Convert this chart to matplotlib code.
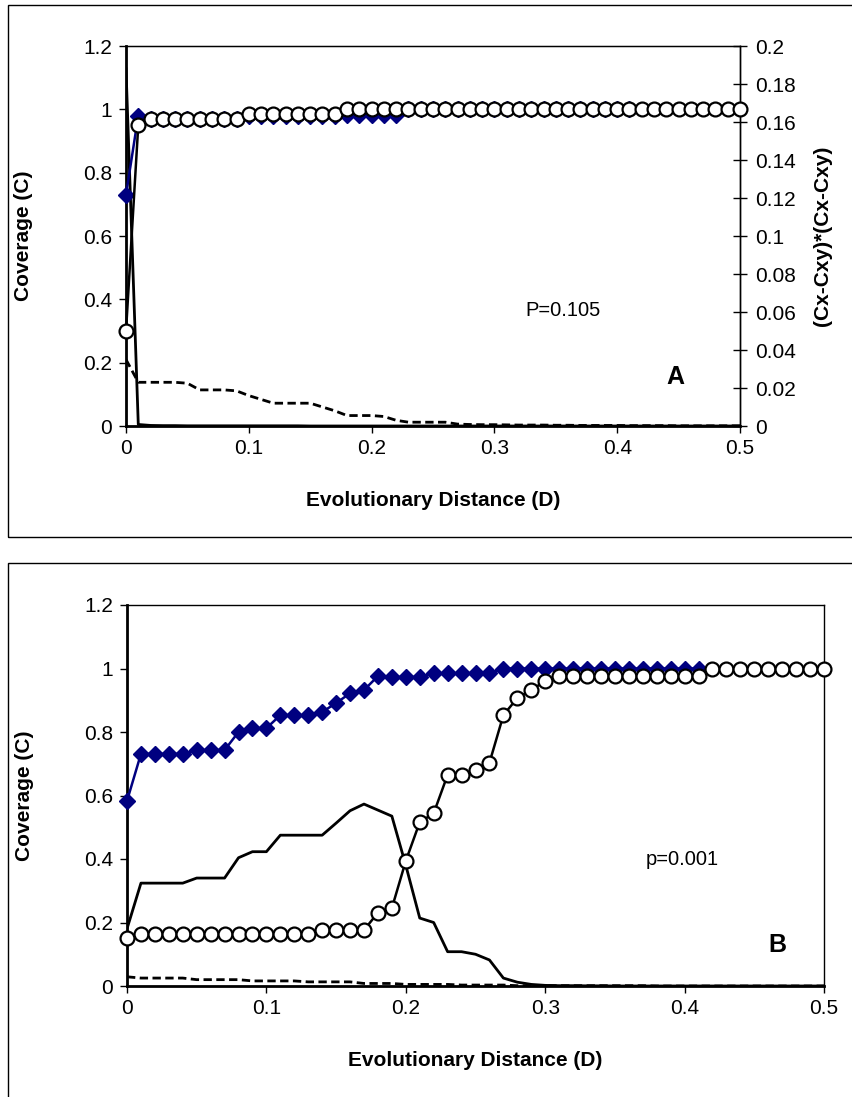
import numpy as np
import matplotlib
matplotlib.use("Agg")
import matplotlib.pyplot as plt
from matplotlib.patches import Rectangle
from matplotlib.ticker import FuncFormatter

plt.rcParams['font.family'] = ['Liberation Sans', 'DejaVu Sans']

# evolutionary distance grid (0 .. 0.5 by 0.01)
dist = np.round(np.arange(0, 0.505, 0.01), 2)
dist_diam = dist[:42]

# ---- panel A values ----
a_circles = [0.30, 0.95] + [0.97] * 8 + [0.985] * 8 + [1.0] * 33
a_diamonds = [0.73, 0.98] + [0.97] * 8 + [0.98] * 8 + [0.982] * 5 + [1.0] * 19
a_solid = [0.188, 0.0008, 0.0003, 0.0002, 0.0002] + [0.0001] * 10 + [0.0] * 36
a_dashed = [0.035, 0.023, 0.023, 0.023, 0.023, 0.0225, 0.019, 0.019, 0.019, 0.0185,
            0.016, 0.014, 0.012, 0.012, 0.012, 0.012, 0.010, 0.008, 0.0055, 0.0055,
            0.0055, 0.005, 0.003, 0.002, 0.002, 0.002, 0.002, 0.001, 0.0008, 0.0007,
            0.0007, 0.0006, 0.0005, 0.0005, 0.0005, 0.0004, 0.0004, 0.0003, 0.0003, 0.0003,
            0.0003, 0.0002, 0.0002, 0.0002, 0.0002, 0.0001, 0.0001, 0.0001, 0.0001, 0.0001, 0.0001]

# ---- panel B values ----
b_circles = ([0.151] + [0.164] * 13 + [0.176] * 4 + [0.231, 0.245, 0.394, 0.516, 0.544,
             0.665, 0.665, 0.68, 0.703, 0.853, 0.907, 0.932, 0.961] + [0.976] * 11 + [1.0] * 9)
b_diamonds = ([0.583] + [0.731] * 4 + [0.743] * 3 + [0.80, 0.812, 0.812, 0.853, 0.853, 0.853,
              0.863, 0.891, 0.922, 0.932, 0.976, 0.973, 0.973, 0.973] + [0.985] * 5 + [1.0] * 15)
b_solid = [0.18, 0.324, 0.324, 0.324, 0.324, 0.34, 0.34, 0.34, 0.404, 0.423,
           0.423, 0.475, 0.475, 0.475, 0.475, 0.513, 0.552, 0.573, 0.554, 0.535,
           0.38, 0.214, 0.2, 0.108, 0.108, 0.1, 0.082, 0.025, 0.012, 0.005,
           0.002, 0.001, 0.001, 0.0005, 0.0005] + [0.0] * 16
b_dashed = [0.029, 0.025, 0.025, 0.025, 0.025, 0.02, 0.02, 0.02, 0.02, 0.016,
            0.016, 0.016, 0.016, 0.013, 0.013, 0.013, 0.013, 0.008, 0.008, 0.008,
            0.005, 0.005, 0.005, 0.005, 0.003, 0.003, 0.003, 0.003] + [0.001] * 10 + [0.0] * 13

NAVY = '#000080'
FS = 15
DASH = (0, (3, 1.6))
fmt = FuncFormatter(lambda v, p: '%g' % round(v, 2))

fig = plt.figure(figsize=(8.52, 10.97), dpi=100)

# panel frames
W, H = 852, 1097
fig.patches.append(Rectangle((8 / W, 1 - 537 / H), 2, (537 - 5) / H, transform=fig.transFigure,
                             fill=False, edgecolor='black', lw=1.0))
fig.patches.append(Rectangle((8 / W, -0.1), 2, 0.1 + (1 - 563 / H), transform=fig.transFigure,
                             fill=False, edgecolor='black', lw=1.0))


def style_axes(ax):
    ax.set_xlim(0, 0.5)
    ax.set_ylim(0, 1.2)
    ax.set_xticks(np.arange(0, 0.51, 0.1))
    ax.set_yticks(np.arange(0, 1.21, 0.2))
    ax.xaxis.set_major_formatter(fmt)
    ax.yaxis.set_major_formatter(fmt)
    ax.tick_params(axis='both', labelsize=FS, direction='out', length=5, width=1)
    ax.tick_params(axis='x', pad=4)
    ax.tick_params(axis='y', pad=5)
    ax.tick_params(right=False, top=False)
    ax.spines['left'].set_linewidth(2)
    ax.spines['bottom'].set_linewidth(2)
    ax.spines['top'].set_linewidth(1)
    ax.spines['right'].set_linewidth(1)
    ax.set_xlabel('Evolutionary Distance (D)', fontsize=FS, fontweight='bold', labelpad=24)
    ax.set_ylabel('Coverage (C)', fontsize=FS, fontweight='bold', labelpad=36)


def plot_cov(ax, circles, diamonds):
    ax.plot(dist_diam, diamonds, color=NAVY, lw=1.8, marker='D', markersize=8.5,
            markerfacecolor=NAVY, markeredgecolor=NAVY, zorder=3, clip_on=False)
    ax.plot(dist, circles, color='black', lw=1.8, marker='o', markersize=10,
            markerfacecolor='white', markeredgecolor='black', markeredgewidth=1.6,
            zorder=4, clip_on=False)


# ---- panel A ----
axA = fig.add_axes([126 / W, 1 - 426 / H, (740 - 126) / W, (426 - 46) / H])
axA2 = axA.twinx()
axA2.set_ylim(0, 0.2)
axA2.set_yticks(np.arange(0, 0.201, 0.02))
axA2.yaxis.set_major_formatter(fmt)
axA2.tick_params(axis='y', labelsize=FS, direction='inout', length=10, width=1, pad=6)
axA2.spines['right'].set_linewidth(1)
axA2.plot(dist, a_solid, color='black', lw=2)
axA2.plot(dist, a_dashed, color='black', lw=2, linestyle=DASH)
axA2.set_ylabel('(Cx-Cxy)*(Cx-Cxy)', fontsize=FS, fontweight='bold', labelpad=12)
axA.set_zorder(axA2.get_zorder() + 1)
axA.patch.set_visible(False)
style_axes(axA)
plot_cov(axA, a_circles, a_diamonds)
axA.text(0.325, 0.366, 'P=0.105', fontsize=FS - 0.5, va='center')
axA.text(0.44, 0.155, 'A', fontsize=FS + 3, fontweight='bold', va='center')

# ---- panel B ----
axB = fig.add_axes([127 / W, 1 - 986 / H, (824 - 127) / W, (986 - 605) / H])
style_axes(axB)
axB.plot(dist, b_solid, color='black', lw=2, zorder=2)
axB.plot(dist, b_dashed, color='black', lw=2, linestyle=DASH, zorder=2)
plot_cov(axB, b_circles, b_diamonds)
axB.text(0.372, 0.397, 'p=0.001', fontsize=FS - 0.5, va='center')
axB.text(0.46, 0.129, 'B', fontsize=FS + 3, fontweight='bold', va='center')

fig.savefig('out.png', dpi=100)
